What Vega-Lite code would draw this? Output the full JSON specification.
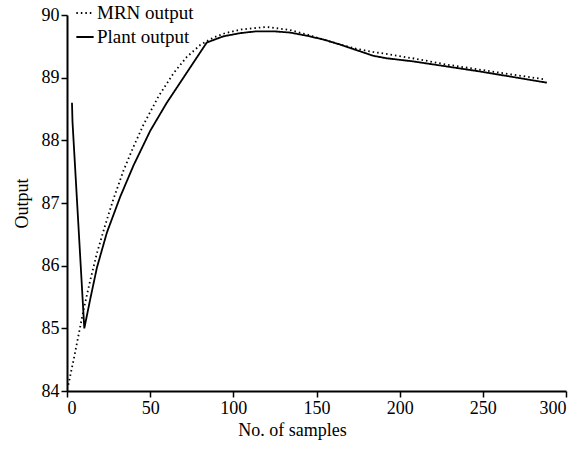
{
  "$schema": "https://vega.github.io/schema/vega-lite/v6.json",
  "width": 499,
  "height": 376,
  "autosize": {"type": "none"},
  "padding": {"left": 67, "top": 15, "right": 21, "bottom": 63},
  "background": "white",
  "config": {
    "view": {"stroke": null},
    "font": "Liberation Serif",
    "axis": {
      "domainColor": "black", "domainWidth": 2, "tickColor": "black", "tickWidth": 1.5, "tickSize": 6,
      "labelFont": "Liberation Serif", "labelFontSize": 18, "labelColor": "black",
      "titleFont": "Liberation Serif", "titleFontSize": 18, "titleFontWeight": "normal", "titleColor": "black",
      "grid": false
    }
  },
  "data": {
    "values": [
      {"series": "MRN output", "x": 0.8, "y": 84.1},
      {"series": "MRN output", "x": 4, "y": 84.5},
      {"series": "MRN output", "x": 7, "y": 84.9},
      {"series": "MRN output", "x": 10, "y": 85.3},
      {"series": "MRN output", "x": 14, "y": 85.77},
      {"series": "MRN output", "x": 18, "y": 86.2},
      {"series": "MRN output", "x": 23, "y": 86.65},
      {"series": "MRN output", "x": 28, "y": 87.07},
      {"series": "MRN output", "x": 34, "y": 87.52},
      {"series": "MRN output", "x": 40, "y": 87.9},
      {"series": "MRN output", "x": 46, "y": 88.25},
      {"series": "MRN output", "x": 55, "y": 88.7},
      {"series": "MRN output", "x": 64, "y": 89.07},
      {"series": "MRN output", "x": 72, "y": 89.33},
      {"series": "MRN output", "x": 80, "y": 89.52},
      {"series": "MRN output", "x": 88, "y": 89.64},
      {"series": "MRN output", "x": 95, "y": 89.71},
      {"series": "MRN output", "x": 105, "y": 89.77},
      {"series": "MRN output", "x": 120, "y": 89.81},
      {"series": "MRN output", "x": 134, "y": 89.76},
      {"series": "MRN output", "x": 144, "y": 89.69},
      {"series": "MRN output", "x": 154, "y": 89.61},
      {"series": "MRN output", "x": 164, "y": 89.53},
      {"series": "MRN output", "x": 174, "y": 89.46},
      {"series": "MRN output", "x": 184, "y": 89.41},
      {"series": "MRN output", "x": 192, "y": 89.38},
      {"series": "MRN output", "x": 210, "y": 89.3},
      {"series": "MRN output", "x": 228, "y": 89.21},
      {"series": "MRN output", "x": 260, "y": 89.08},
      {"series": "MRN output", "x": 288, "y": 88.97},
      {"series": "Plant output", "x": 3, "y": 88.6},
      {"series": "Plant output", "x": 3.3, "y": 88.3},
      {"series": "Plant output", "x": 10.4, "y": 85.0},
      {"series": "Plant output", "x": 14, "y": 85.47},
      {"series": "Plant output", "x": 18, "y": 85.97},
      {"series": "Plant output", "x": 24, "y": 86.53},
      {"series": "Plant output", "x": 32, "y": 87.1},
      {"series": "Plant output", "x": 40, "y": 87.6},
      {"series": "Plant output", "x": 50, "y": 88.15},
      {"series": "Plant output", "x": 60, "y": 88.6},
      {"series": "Plant output", "x": 70, "y": 89.0},
      {"series": "Plant output", "x": 78, "y": 89.32},
      {"series": "Plant output", "x": 84, "y": 89.56},
      {"series": "Plant output", "x": 94, "y": 89.66},
      {"series": "Plant output", "x": 104, "y": 89.71},
      {"series": "Plant output", "x": 114, "y": 89.74},
      {"series": "Plant output", "x": 124, "y": 89.74},
      {"series": "Plant output", "x": 134, "y": 89.72},
      {"series": "Plant output", "x": 144, "y": 89.67},
      {"series": "Plant output", "x": 154, "y": 89.61},
      {"series": "Plant output", "x": 164, "y": 89.53},
      {"series": "Plant output", "x": 174, "y": 89.44},
      {"series": "Plant output", "x": 184, "y": 89.35},
      {"series": "Plant output", "x": 192, "y": 89.31},
      {"series": "Plant output", "x": 208, "y": 89.26},
      {"series": "Plant output", "x": 248, "y": 89.1},
      {"series": "Plant output", "x": 288.5, "y": 88.92}
    ]
  },
  "mark": {"type": "line", "color": "black", "strokeWidth": 1.8},
  "encoding": {
    "x": {"field": "x", "type": "quantitative", "scale": {"domain": [0, 300], "nice": false, "zero": false},
      "axis": {"title": "No. of samples", "values": [0, 50, 100, 150, 200, 250, 300], "labelPadding": 2, "titlePadding": 4, "titleX": 225, "titleAlign": "center", "titleAnchor": null}},
    "y": {"field": "y", "type": "quantitative", "scale": {"domain": [84, 90], "nice": false, "zero": false},
      "axis": {"title": "Output", "values": [84, 85, 86, 87, 88, 89, 90], "labelPadding": 2, "titlePadding": 10}},
    "strokeDash": {"field": "series", "type": "nominal",
      "scale": {"domain": ["MRN output", "Plant output"], "range": [[1.5, 3], [1, 0]]},
      "legend": {"title": null, "orient": "none", "legendX": 8, "legendY": -12, "symbolType": "stroke",
        "symbolStrokeColor": "black", "symbolStrokeWidth": 1.8, "symbolSize": 300, "labelFontSize": 19,
        "labelFont": "Liberation Serif", "labelColor": "black", "rowPadding": 4, "symbolOffset": 0, "labelOffset": 2}}
  }
}
